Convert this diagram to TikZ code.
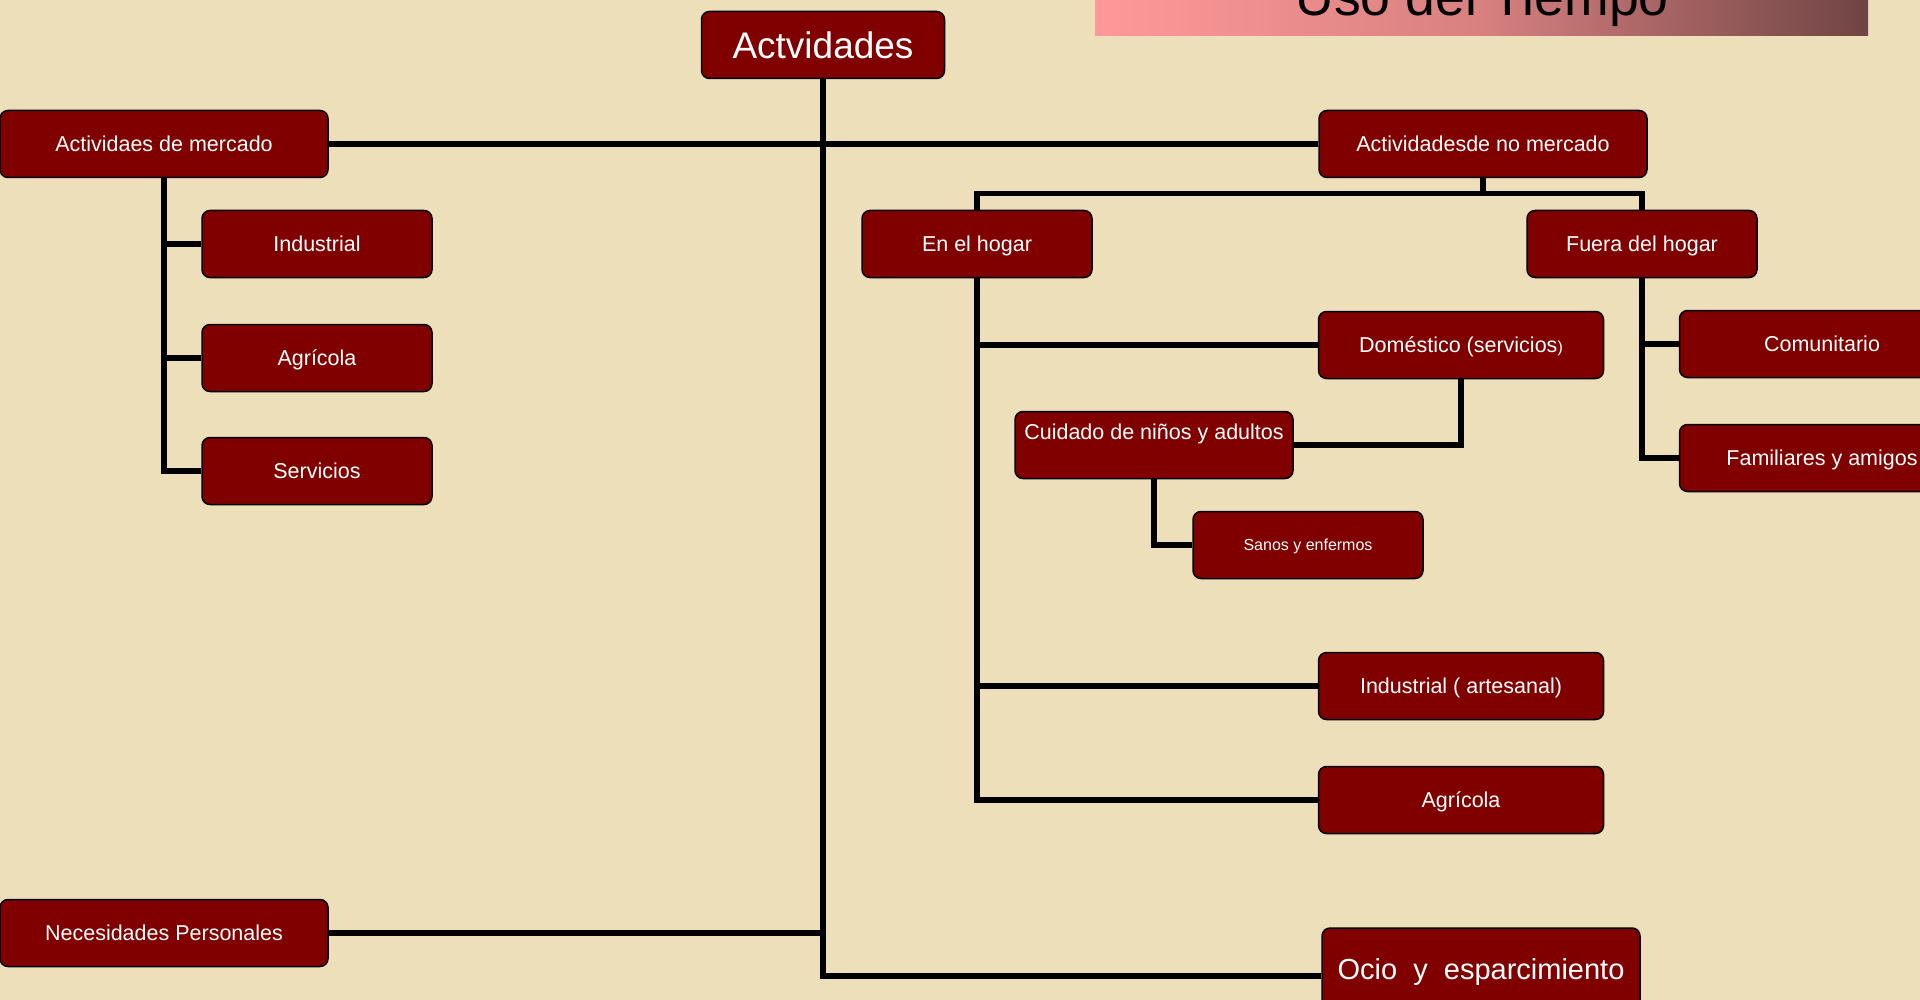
\documentclass[tikz,border=0pt]{standalone}
\usepackage{fontspec}
\setmainfont{Liberation Sans}
\usetikzlibrary{positioning}

\definecolor{vino}{RGB}{128,0,0}
\definecolor{pergamino}{RGB}{237,223,185}
\definecolor{rosa}{RGB}{255,153,153}
\definecolor{rosam}{RGB}{216,128,128}
\definecolor{marron}{RGB}{112,68,68}

\tikzset{
	caja0/.style={draw=black, line width=0.75pt, fill=vino, rounded corners=4pt,
		text=white, font=\fontsize{10.75}{13}\selectfont, minimum height=33.5pt,
		minimum width=115pt, inner sep=0pt, align=center},
	caja/.style={caja0, text height=7.9pt, text depth=0.2pt},
	ancha/.style={caja, minimum width=142.5pt},
	larga/.style={caja, minimum width=164pt},
	linea/.style={line width=2.6pt, black},
}

\begin{document}
\begin{tikzpicture}[x=0.5pt, y=0.5pt, on grid]
		\useasboundingbox (0,0) rectangle (1920,-1000);
		\fill[pergamino] (0,0) rectangle (1920,-1000);
		\shade[left color=rosa, right color=marron, middle color=rosam] (1095,0) rectangle (1868,-36);
		\node[anchor=base, font=\fontsize{26.8}{30}\selectfont] (titulo) at (1482,-16) {Uso del Tiempo};
		
		\node[caja0, minimum width=121.5pt, font=\fontsize{18.5}{22}\selectfont] (act) at (823,-45) {Actvidades};
		\node[larga] (mer) [below left=49.5pt and 329.5pt of act] {Actividaes de mercado};
		\node[larga] (nomer) [below right=49.5pt and 330pt of act] {Actividadesde no mercado};
		
		\node[caja] (ind) [below right=50pt and 76.5pt of mer] {Industrial};
		\node[caja] (agr) [below=57pt of ind] {Agrícola};
		\node[caja] (ser) [below=56.5pt of agr] {Servicios};
		
		\node[caja] (hog) [below left=50pt and 253pt of nomer] {En el hogar};
		\node[caja] (fue) [below right=50pt and 79.5pt of nomer] {Fuera del hogar};
		
		\node[ancha] (dom) [below right=50.5pt and 242pt of hog] {Doméstico (servicios{\fontsize{8}{10}\selectfont)}};
		\node[caja0, minimum width=139pt] (cui) [below left=50pt and 153.5pt of dom] {Cuidado de niños y adultos\\\mbox{}};
		\node[caja, font=\fontsize{8}{10}\selectfont, text height=5.9pt] (san) [below right=50pt and 77pt of cui] {Sanos y enfermos};
		\node[ancha] (art) [below=170.5pt of dom] {Industrial ( artesanal)};
		\node[ancha] (agr2) [below=57pt of art] {Agrícola};
		
		\node[ancha] (com) [below right=50pt and 90pt of fue] {Comunitario};
		\node[ancha] (fam) [below=57pt of com] {Familiares y amigos};
		
		\node[larga] (nec) [below=394.5pt of mer] {Necesidades Personales};
		\node[caja0, minimum width=159pt, minimum height=48pt, font=\fontsize{14.5}{17}\selectfont] (ocio) [below right=88pt and 10pt of agr2] {\raisebox{7pt}{Ocio~~y~~esparcimiento}};
		
		\draw[linea] (act.south) -- (act.south |- ocio.west) -- (ocio.west);
		\draw[linea] (mer.east) -- (nomer.west);
		\draw[linea] (nec.east) -- (nec.east -| act.south);
		
		\draw[linea] (mer.south) |- (ind.west);
		\draw[linea] (mer.south) |- (agr.west);
		\draw[linea] (mer.south) |- (ser.west);
		
		\draw[linea] (nomer.south) -- ++(0,-16);
		\draw[linea] (hog.north) -- ++(0,16) -| (fue.north);
		
		\draw[linea] (hog.south) |- (dom.west);
		\draw[linea] (hog.south) |- (art.west);
		\draw[linea] (hog.south) |- (agr2.west);
		\draw[linea] (dom.south) |- (cui.east);
		\draw[linea] (cui.south) |- (san.west);
		
		\draw[linea] (fue.south) |- (com.west);
		\draw[linea] (fue.south) |- (fam.west);
\end{tikzpicture}
\end{document}
